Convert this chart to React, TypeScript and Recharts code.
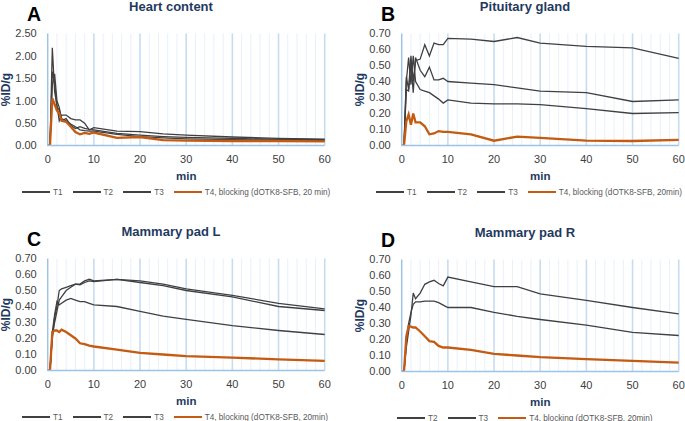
import React from "react";
import { LineChart, Line, XAxis, YAxis, ReferenceLine } from "recharts";

// sampling times (min), shared by every panel
const times = [0, 0.5, 1, 1.5, 2, 2.5, 3, 4, 5, 6, 7, 8, 9, 10, 15, 20, 25, 30, 40, 50, 60];

const xTicks = [0, 10, 20, 30, 40, 50, 60];
const minorGrid = [2, 4, 6, 8, 12, 14, 16, 18, 22, 24, 26, 28, 32, 34, 36, 38, 42, 44, 46, 48, 52, 54, 56, 58];
const majorGrid = [10, 20, 30, 40, 50, 60];

const heartTicks = [0, 0.5, 1, 1.5, 2, 2.5];
const smallTicks = [0, 0.1, 0.2, 0.3, 0.4, 0.5, 0.6, 0.7];

// A - heart content
const heartT1 = [0, 0, 2.18, 1.2, 0.9, 0.55, 0.68, 0.68, 0.6, 0.57, 0.57, 0.5, 0.35, 0.4, 0.32, 0.31, 0.26, 0.23, 0.19, 0.16, 0.14];
const heartT2 = [0, 0, 1.65, 1.4, 0.85, 0.8, 0.55, 0.6, 0.45, 0.38, 0.42, 0.38, 0.36, 0.35, 0.27, 0.23, 0.2, 0.18, 0.16, 0.14, 0.13];
const heartT3 = [0, 0, 1.35, 1.6, 1.0, 0.85, 0.6, 0.55, 0.48, 0.42, 0.35, 0.33, 0.32, 0.32, 0.25, 0.2, 0.17, 0.15, 0.13, 0.12, 0.11];
const heartT4 = [0, 0, 1.05, 0.92, 0.78, 0.72, 0.55, 0.53, 0.42, 0.3, 0.25, 0.28, 0.26, 0.29, 0.17, 0.19, 0.12, 0.11, 0.1, 0.1, 0.09];

// B - pituitary gland
const pitT1 = [0, 0, 0.43, 0.35, 0.56, 0.4, 0.53, 0.54, 0.63, 0.56, 0.64, 0.63, 0.63, 0.67, 0.665, 0.65, 0.675, 0.64, 0.62, 0.61, 0.545];
const pitT2 = [0, 0, 0.35, 0.34, 0.52, 0.33, 0.55, 0.47, 0.43, 0.49, 0.41, 0.41, 0.42, 0.4, 0.39, 0.38, 0.36, 0.34, 0.33, 0.275, 0.285];
const pitT3 = [0, 0, 0.4, 0.55, 0.38, 0.56, 0.4, 0.35, 0.34, 0.33, 0.31, 0.29, 0.265, 0.285, 0.265, 0.26, 0.26, 0.255, 0.23, 0.2, 0.205];
const pitT4 = [0, 0, 0.15, 0.195, 0.13, 0.2, 0.145, 0.145, 0.12, 0.07, 0.075, 0.09, 0.085, 0.085, 0.07, 0.03, 0.055, 0.048, 0.03, 0.028, 0.035];

// C - mammary pad L
const mplT1 = [0, 0, 0.2, 0.33, 0.4, 0.5, 0.51, 0.52, 0.53, 0.54, 0.54, 0.56, 0.57, 0.56, 0.57, 0.56, 0.54, 0.51, 0.47, 0.42, 0.385];
const mplT2 = [0, 0, 0.22, 0.3, 0.37, 0.44, 0.46, 0.5, 0.52, 0.54, 0.535, 0.55, 0.56, 0.555, 0.57, 0.55, 0.53, 0.5, 0.46, 0.4, 0.375];
const mplT3 = [0, 0, 0.24, 0.35, 0.43, 0.41, 0.42, 0.44, 0.45, 0.44, 0.43, 0.43, 0.42, 0.41, 0.4, 0.37, 0.34, 0.32, 0.28, 0.25, 0.225];
const mplT4 = [0, 0, 0.24, 0.25, 0.25, 0.24, 0.255, 0.24, 0.22, 0.2, 0.17, 0.165, 0.155, 0.15, 0.13, 0.11, 0.1, 0.09, 0.08, 0.07, 0.06];

// D - mammary pad R
const mprT2 = [0, 0, 0.15, 0.25, 0.35, 0.49, 0.455, 0.49, 0.545, 0.56, 0.57, 0.55, 0.535, 0.59, 0.56, 0.53, 0.53, 0.485, 0.445, 0.4, 0.36];
const mprT3 = [0, 0, 0.18, 0.3, 0.37, 0.42, 0.435, 0.435, 0.44, 0.44, 0.44, 0.43, 0.415, 0.4, 0.4, 0.37, 0.345, 0.325, 0.29, 0.245, 0.225];
const mprT4 = [0, 0, 0.22, 0.285, 0.28, 0.275, 0.275, 0.25, 0.22, 0.19, 0.185, 0.16, 0.15, 0.15, 0.135, 0.11, 0.1, 0.09, 0.077, 0.067, 0.055];

const DARK = "#404040";
const ORANGE = "#c55a11";
const NAVY = "#1f3a5f";
const FONT = "'Liberation Sans', Arial, sans-serif";

type Series = { key: string; name: string; values: number[]; color: string; width: number };

function buildRows(series: Series[]) {
  return times.map((t, i) => {
    const row: Record<string, number> = { t };
    series.forEach((s) => (row[s.key] = s.values[i]));
    return row;
  });
}

function Legend({ series }: { series: Series[] }) {
  return (
    <div
      style={{
        position: "absolute",
        left: series.length === 4 ? 22 : 43,
        top: 187,
        height: 10,
        display: "flex",
        alignItems: "center",
        fontSize: 8.2,
        color: "#595959",
        whiteSpace: "nowrap",
      }}
    >
      {series.map((s) => (
        <div key={s.key} style={{ display: "flex", alignItems: "center", marginRight: 10 }}>
          <div style={{ width: 28, height: s.width > 2 ? 2.5 : 1.6, background: s.color, marginRight: 3 }} />
          <span>{s.name}</span>
        </div>
      ))}
    </div>
  );
}

interface PanelProps {
  ox: number;
  oy: number;
  letter: string;
  title: string;
  yMax: number;
  yTicks: number[];
  series: Series[];
}

function Panel({ ox, oy, letter, title, yMax, yTicks, series }: PanelProps) {
  const rows = buildRows(series);
  return (
    <div style={{ position: "absolute", left: ox, top: oy, width: 340, height: 200 }}>
      <div
        style={{
          position: "absolute",
          left: 27,
          top: 1,
          fontSize: 19.5,
          fontWeight: 700,
          color: "#000",
          lineHeight: "26px",
        }}
      >
        {letter}
      </div>
      <div
        style={{
          position: "absolute",
          left: 71,
          width: 200,
          top: 0,
          textAlign: "center",
          fontSize: 13,
          fontWeight: 700,
          color: NAVY,
          lineHeight: "14px",
        }}
      >
        {title}
      </div>
      <div style={{ position: "absolute", left: 0, top: 0 }}>
        <LineChart
          width={340}
          height={190}
          data={rows}
          margin={{ top: 33.5, right: 15.3, left: 4.7, bottom: 10.5 }}
          style={{ fontFamily: FONT }}
        >
          {minorGrid.map((v) => (
            <ReferenceLine key={"m" + v} x={v} stroke="#e8f0fa" strokeWidth={1} />
          ))}
          {majorGrid.map((v) => (
            <ReferenceLine key={"M" + v} x={v} stroke="#c6dcf1" strokeWidth={1.6} />
          ))}
          <XAxis
            dataKey="t"
            type="number"
            domain={[0, 60]}
            ticks={xTicks}
            height={34}
            tickLine={false}
            tickSize={6}
            tickMargin={3.5}
            axisLine={{ stroke: "#9dc3e6", strokeWidth: 1.5 }}
            tick={{ fontSize: 11, fill: "#404040" }}
            label={{ value: "min", position: "insideBottom", offset: 0, fontSize: 11.5, fontWeight: 700, fill: NAVY }}
          />
          <YAxis
            type="number"
            domain={[0, yMax]}
            ticks={yTicks}
            width={43}
            tickLine={false}
            tickSize={8}
            tickMargin={3}
            interval={0}
            allowDataOverflow
            axisLine={{ stroke: "#9dc3e6", strokeWidth: 1.5 }}
            tick={{ fontSize: 11, fill: "#404040" }}
            tickFormatter={(v: number) => v.toFixed(2)}
            label={{
              value: "%ID/g",
              angle: -90,
              position: "insideLeft",
              offset: 1,
              fontSize: 12,
              fontWeight: 700,
              fill: NAVY,
              style: { textAnchor: "middle" },
            }}
          />
          {series.map((s) => (
            <Line
              key={s.key}
              type="linear"
              dataKey={s.key}
              name={s.name}
              stroke={s.color}
              strokeWidth={s.width}
              dot={false}
              isAnimationActive={false}
            />
          ))}
        </LineChart>
      </div>
      <Legend series={series} />
    </div>
  );
}

const blockingLabel = "T4, blocking (dOTK8-SFB, 20 min)";
const blockingLabel2 = "T4, blocking (dOTK8-SFB, 20min)";

export default function App() {
  const heart: Series[] = [
    { key: "T1", name: "T1", values: heartT1, color: DARK, width: 1.3 },
    { key: "T2", name: "T2", values: heartT2, color: DARK, width: 1.3 },
    { key: "T3", name: "T3", values: heartT3, color: DARK, width: 1.3 },
    { key: "T4", name: blockingLabel, values: heartT4, color: ORANGE, width: 2.3 },
  ];
  const pit: Series[] = [
    { key: "T1", name: "T1", values: pitT1, color: DARK, width: 1.3 },
    { key: "T2", name: "T2", values: pitT2, color: DARK, width: 1.3 },
    { key: "T3", name: "T3", values: pitT3, color: DARK, width: 1.3 },
    { key: "T4", name: blockingLabel2, values: pitT4, color: ORANGE, width: 2.3 },
  ];
  const mpl: Series[] = [
    { key: "T1", name: "T1", values: mplT1, color: DARK, width: 1.3 },
    { key: "T2", name: "T2", values: mplT2, color: DARK, width: 1.3 },
    { key: "T3", name: "T3", values: mplT3, color: DARK, width: 1.3 },
    { key: "T4", name: blockingLabel2, values: mplT4, color: ORANGE, width: 2.3 },
  ];
  const mpr: Series[] = [
    { key: "T2", name: "T2", values: mprT2, color: DARK, width: 1.3 },
    { key: "T3", name: "T3", values: mprT3, color: DARK, width: 1.3 },
    { key: "T4", name: blockingLabel2, values: mprT4, color: ORANGE, width: 2.3 },
  ];
  return (
    <div
      style={{
        position: "absolute",
        left: 0,
        top: 0,
        width: 685,
        height: 421,
        background: "#fff",
        fontFamily: FONT,
        overflow: "hidden",
      }}
    >
      <Panel ox={0} oy={0} letter="A" title="Heart content" yMax={2.5} yTicks={heartTicks} series={heart} />
      <Panel ox={354} oy={0} letter="B" title="Pituitary gland" yMax={0.7} yTicks={smallTicks} series={pit} />
      <Panel ox={0} oy={225} letter="C" title="Mammary pad L" yMax={0.7} yTicks={smallTicks} series={mpl} />
      <Panel ox={354} oy={226} letter="D" title="Mammary pad R" yMax={0.7} yTicks={smallTicks} series={mpr} />
    </div>
  );
}
